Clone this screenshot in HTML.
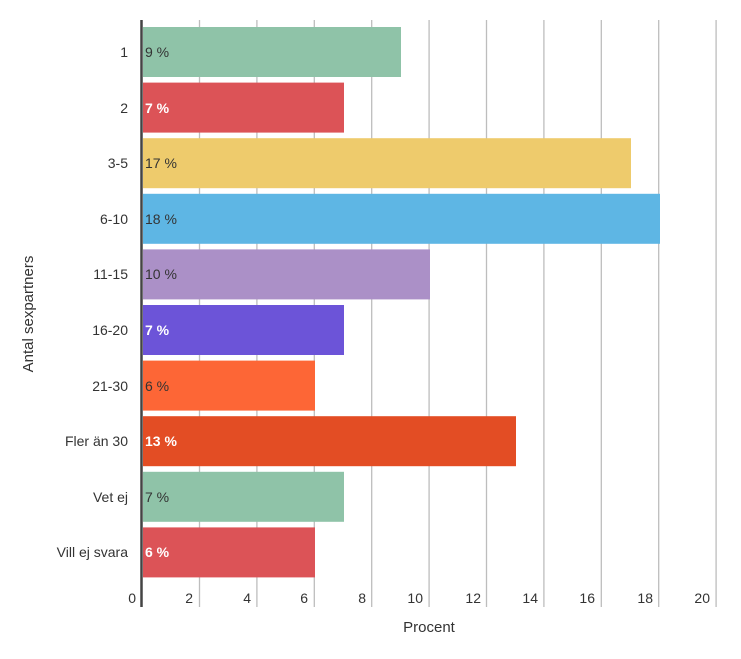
<!DOCTYPE html>
<html><head><meta charset="utf-8"><style>
body{margin:0;background:#fff;}
svg text{font-family:"Liberation Sans",sans-serif;}
</style></head><body>
<svg width="741" height="654" viewBox="0 0 741 654">
<g stroke="#bdbdbd" stroke-width="1.3">
<line x1="199.5" y1="20" x2="199.5" y2="607"/>
<line x1="256.9" y1="20" x2="256.9" y2="607"/>
<line x1="314.3" y1="20" x2="314.3" y2="607"/>
<line x1="371.7" y1="20" x2="371.7" y2="607"/>
<line x1="429.1" y1="20" x2="429.1" y2="607"/>
<line x1="486.5" y1="20" x2="486.5" y2="607"/>
<line x1="543.9" y1="20" x2="543.9" y2="607"/>
<line x1="601.3" y1="20" x2="601.3" y2="607"/>
<line x1="658.7" y1="20" x2="658.7" y2="607"/>
<line x1="716.1" y1="20" x2="716.1" y2="607"/>
</g>
<g>
<rect x="143" y="27" width="258" height="50" fill="#8fc3a8"/>
<rect x="143" y="82.6" width="201" height="50" fill="#dc5357"/>
<rect x="143" y="138.2" width="488" height="50" fill="#eecb6c"/>
<rect x="143" y="193.8" width="517" height="50" fill="#5eb6e4"/>
<rect x="143" y="249.4" width="287" height="50" fill="#ab90c7"/>
<rect x="143" y="305" width="201" height="50" fill="#6c54d8"/>
<rect x="143" y="360.6" width="172" height="50" fill="#fd6636"/>
<rect x="143" y="416.2" width="373" height="50" fill="#e34d24"/>
<rect x="143" y="471.8" width="201" height="50" fill="#8fc3a8"/>
<rect x="143" y="527.4" width="172" height="50" fill="#dc5357"/>
</g>
<line x1="141.5" y1="20" x2="141.5" y2="607" stroke="#444" stroke-width="2.5"/>
<g font-size="14" fill="#333">
<text x="145" y="57">9 %</text>
<text x="145" y="113" fill="#fff" font-weight="bold">7 %</text>
<text x="145" y="168">17 %</text>
<text x="145" y="224">18 %</text>
<text x="145" y="279">10 %</text>
<text x="145" y="335" fill="#fff" font-weight="bold">7 %</text>
<text x="145" y="391">6 %</text>
<text x="145" y="446" fill="#fff" font-weight="bold">13 %</text>
<text x="145" y="502">7 %</text>
<text x="145" y="557" fill="#fff" font-weight="bold">6 %</text>
</g>
<g font-size="14" fill="#333" text-anchor="end">
<text x="128" y="57">1</text>
<text x="128" y="113">2</text>
<text x="128" y="168">3-5</text>
<text x="128" y="224">6-10</text>
<text x="128" y="279">11-15</text>
<text x="128" y="335">16-20</text>
<text x="128" y="391">21-30</text>
<text x="128" y="446">Fler än 30</text>
<text x="128" y="502">Vet ej</text>
<text x="128" y="557">Vill ej svara</text>
</g>
<g font-size="14" fill="#333" text-anchor="end">
<text x="136" y="603">0</text>
<text x="193" y="603">2</text>
<text x="251" y="603">4</text>
<text x="308" y="603">6</text>
<text x="366" y="603">8</text>
<text x="423" y="603">10</text>
<text x="481" y="603">12</text>
<text x="538" y="603">14</text>
<text x="595" y="603">16</text>
<text x="653" y="603">18</text>
<text x="710" y="603">20</text>
</g>
<text x="429" y="632" font-size="15" fill="#333" text-anchor="middle">Procent</text>
<text transform="translate(33,314) rotate(-90)" font-size="15" fill="#333" text-anchor="middle">Antal sexpartners</text>
</svg>
</body></html>
